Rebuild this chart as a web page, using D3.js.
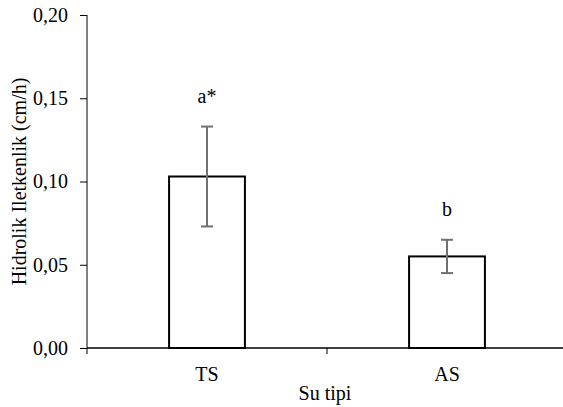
<!DOCTYPE html>
<html>
<head>
<meta charset="utf-8">
<script src="https://cdn.jsdelivr.net/npm/d3@7"></script>
</head>
<body style="margin:0;background:#fff">
<svg id="chart" width="563" height="407" font-family="Liberation Serif, Times New Roman, serif"></svg>
<script>
// chart data
var categories = ['TS', 'AS'];
var means = [0.103, 0.055];
var errors = [0.030, 0.010];
var letters = ['a*', 'b'];
var yTicks = [0, 0.05, 0.10, 0.15, 0.20];

var FONT = 'Liberation Serif, Times New Roman, serif';
var margin = {left: 87, right: -4, top: 15, bottom: 59};
var width = 563 - margin.left - margin.right;
var height = 407 - margin.top - margin.bottom;

var svg = d3.select('#chart');
var g = svg.append('g')
  .attr('transform', 'translate(' + margin.left + ',' + margin.top + ')');

var x = d3.scaleBand()
  .domain(categories)
  .range([0, width])
  .paddingInner(0.684)
  .paddingOuter(0.342);

var y = d3.scaleLinear()
  .domain([0, 0.2])
  .range([height, 0]);

var fmt = function (d) {
  return d3.format('.2f')(d).replace('.', ',');
};

function styleText(sel) {
  return sel
    .attr('font-family', FONT)
    .attr('font-size', 20)
    .attr('fill', '#000');
}

// y axis
var yAxis = g.append('g')
  .call(d3.axisLeft(y).tickValues(yTicks).tickSize(7).tickFormat(fmt))
  .attr('font-family', FONT)
  .attr('font-size', 20);
yAxis.select('.domain').attr('stroke', '#000').attr('d', 'M0,0V' + height);
styleText(yAxis.selectAll('text')).attr('x', -19);

// x axis, ticks at category boundaries
var bounds = [0, width / 2, width];
var xAxis = g.append('g').attr('transform', 'translate(0,' + height + ')');
xAxis.append('line')
  .attr('x1', 0).attr('x2', width)
  .attr('stroke', '#000').attr('stroke-width', 1.5);
xAxis.selectAll('line.tick')
  .data(bounds.slice(0, 2))
  .enter()
  .append('line')
  .attr('class', 'tick')
  .attr('x1', function (d) { return d; })
  .attr('x2', function (d) { return d; })
  .attr('y1', 0).attr('y2', 6)
  .attr('stroke', '#000');
styleText(xAxis.selectAll('text')
  .data(categories)
  .enter()
  .append('text')
  .attr('x', function (d) { return x(d) + x.bandwidth() / 2; })
  .attr('y', 33)
  .attr('text-anchor', 'middle')
  .text(function (d) { return d; }));

// bars
g.selectAll('rect.bar')
  .data(means)
  .enter()
  .append('rect')
  .attr('class', 'bar')
  .attr('x', function (d, i) { return x(categories[i]); })
  .attr('y', function (d) { return y(d); })
  .attr('width', x.bandwidth())
  .attr('height', function (d) { return height - y(d); })
  .attr('fill', '#fff')
  .attr('stroke', '#000')
  .attr('stroke-width', 2);

// error bars
var err = g.selectAll('g.err')
  .data(means)
  .enter()
  .append('g')
  .attr('class', 'err')
  .attr('stroke', '#707070')
  .attr('stroke-width', 2);

function cx(i) {
  return x(categories[i]) + x.bandwidth() / 2;
}

err.append('line')
  .attr('x1', function (d, i) { return cx(i); })
  .attr('x2', function (d, i) { return cx(i); })
  .attr('y1', function (d, i) { return y(d + errors[i]); })
  .attr('y2', function (d, i) { return y(d - errors[i]); });
[1, -1].forEach(function (s) {
  err.append('line')
    .attr('x1', function (d, i) { return cx(i) - 6; })
    .attr('x2', function (d, i) { return cx(i) + 6; })
    .attr('y1', function (d, i) { return y(d + s * errors[i]); })
    .attr('y2', function (d, i) { return y(d + s * errors[i]); });
});

// significance letters
styleText(g.selectAll('text.letter')
  .data(means)
  .enter()
  .append('text')
  .attr('class', 'letter')
  .attr('x', function (d, i) { return cx(i); })
  .attr('y', function (d, i) { return y(d + errors[i]) - 24; })
  .attr('text-anchor', 'middle')
  .text(function (d, i) { return letters[i]; }));

// axis titles
styleText(svg.append('text')
  .attr('transform', 'translate(26,' + (margin.top + height / 2) + ') rotate(-90)')
  .attr('text-anchor', 'middle')
  .text('Hidrolik Iletkenlik (cm/h)'));

styleText(svg.append('text')
  .attr('x', margin.left + width / 2 - 2)
  .attr('y', 400)
  .attr('text-anchor', 'middle')
  .text('Su tipi'));
</script>
</body>
</html>
